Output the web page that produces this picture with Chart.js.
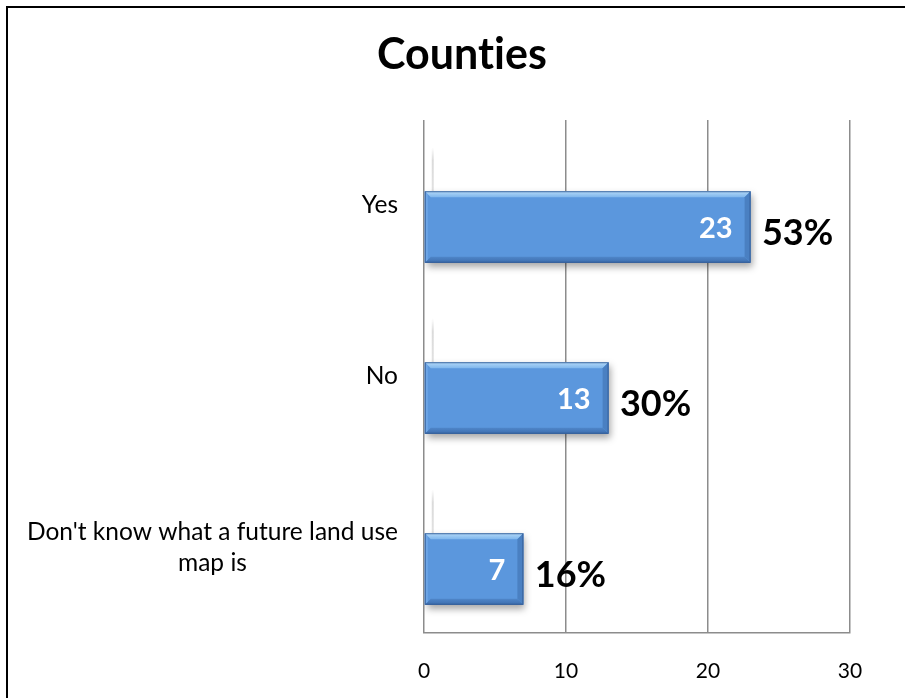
<!DOCTYPE html>
<html>
<head>
<meta charset="utf-8">
<title>Counties</title>
<script src="https://cdn.jsdelivr.net/npm/chart.js@4/dist/chart.umd.min.js"></script>
<style>
  html, body { margin: 0; padding: 0; background: #fff; }
  #wrap { position: relative; width: 905px; height: 698px; overflow: hidden; }
  #frame { position: absolute; left: 6px; top: 6px; width: 1000px; height: 800px;
           border-left: 2px solid #000; border-top: 2px solid #000; pointer-events: none; }
  canvas { position: absolute; left: 0; top: 0; }
</style>
</head>
<body>
<div id="wrap">
  <canvas id="chart" width="905" height="698"></canvas>
  <div id="frame"></div>
</div>
<script>
// Survey answers and counts
const categories = ['Yes', 'No', ["Don't know what a future land use", 'map is']];
const counts = [23, 13, 7];
const xTicks = [0, 10, 20, 30];

const total = counts.reduce((a, b) => a + b, 0);
const percents = counts.map(v => Math.round(v / total * 100) + '%');

const FONT = 'Lato, "Open Sans", sans-serif';
const DEPTH = 21.5;   // downward shift of the bar faces (3D look)
const BEVEL = 6;

// Plain glyphs, no "ti" style ligatures
const plainText = {
  id: 'plainText',
  beforeDraw(chart) {
    const ctx = chart.ctx;
    if ('letterSpacing' in ctx) ctx.letterSpacing = '0.01px';
    if ('textRendering' in ctx) ctx.textRendering = 'optimizeSpeed';
  }
};

// Draws the bars shifted down with a soft shadow, then adds bevels and labels
const bevelBars = {
  id: 'bevelBars',
  beforeDatasetsDraw(chart) {
    const ctx = chart.ctx;
    // faint back edge of each 3D bar
    const meta = chart.getDatasetMeta(0);
    meta.data.forEach(el => {
      const p = el.getProps(['y', 'base', 'height'], true);
      const T = p.y - p.height / 2 + DEPTH;
      const g = ctx.createLinearGradient(0, T - 44, 0, T);
      g.addColorStop(0, 'rgba(215,215,215,0)');
      g.addColorStop(0.3, 'rgba(215,215,215,0.9)');
      g.addColorStop(1, 'rgba(225,225,225,1)');
      ctx.save();
      ctx.fillStyle = g;
      ctx.fillRect(p.base + 7, T - 44, 2, 44);
      ctx.restore();
    });
    ctx.save();
    ctx.translate(0, DEPTH);
    ctx.shadowColor = 'rgba(0,0,0,0.35)';
    ctx.shadowBlur = 7;
    ctx.shadowOffsetX = 2;
    ctx.shadowOffsetY = 4;
  },
  afterDatasetsDraw(chart) {
    const ctx = chart.ctx;
    ctx.shadowColor = 'transparent';
    ctx.shadowBlur = 0;
    ctx.shadowOffsetX = 0;
    ctx.shadowOffsetY = 0;
    const meta = chart.getDatasetMeta(0);
    meta.data.forEach((el, i) => {
      const p = el.getProps(['x', 'y', 'base', 'height'], true);
      const L = p.base, R = p.x, T = p.y - p.height / 2, B = p.y + p.height / 2, d = BEVEL;
      const poly = (pts, fill) => {
        ctx.beginPath();
        ctx.moveTo(pts[0][0], pts[0][1]);
        for (let k = 1; k < pts.length; k++) ctx.lineTo(pts[k][0], pts[k][1]);
        ctx.closePath();
        ctx.fillStyle = fill;
        ctx.fill();
      };
      const gTop = ctx.createLinearGradient(0, T, 0, T + d);
      gTop.addColorStop(0, '#b3d9f8');
      gTop.addColorStop(1, '#7fb6ec');
      poly([[L, T], [R, T], [R - d, T + d], [L + d, T + d]], gTop);
      const gBot = ctx.createLinearGradient(0, B - d, 0, B);
      gBot.addColorStop(0, '#4f86c9');
      gBot.addColorStop(1, '#3d6dad');
      poly([[L, B], [R, B], [R - d, B - d], [L + d, B - d]], gBot);
      poly([[R, T], [R, B], [R - d, B - d], [R - d, T + d]], '#4a80c2');
      poly([[L, T], [L, B], [L + 3, B - 3], [L + 3, T + 3]], '#6ea6e6');
      ctx.lineWidth = 1;
      ctx.strokeStyle = 'rgba(47,87,145,0.85)';
      ctx.strokeRect(L + 0.5, T + 0.5, R - L - 1, B - T - 1);

      // count inside the bar
      ctx.fillStyle = '#ffffff';
      ctx.font = 'bold 29px ' + FONT;
      ctx.textAlign = 'right';
      ctx.textBaseline = 'middle';
      ctx.fillText(String(counts[i]), R - 18, p.y + 2);

      // share of all answers, beside the bar
      ctx.fillStyle = '#000000';
      ctx.font = 'bold 36px ' + FONT;
      ctx.textAlign = 'center';
      ctx.fillText(percents[i], R + 47, p.y + 6);
    });
    ctx.restore();
  },
  afterDraw(chart) {
    // category labels: block right-aligned to the axis, lines centred within the block
    const ctx = chart.ctx;
    const y = chart.scales.y;
    ctx.save();
    ctx.font = '24.5px ' + FONT;
    ctx.fillStyle = '#000';
    ctx.textBaseline = 'middle';
    ctx.textAlign = 'center';
    const lineH = 31;
    categories.forEach((lab, i) => {
      const lines = Array.isArray(lab) ? lab : [lab];
      const w = Math.max(...lines.map(s => ctx.measureText(s).width));
      const cx = 398 - w / 2;
      const cy = y.getPixelForValue(i);
      lines.forEach((s, k) => {
        ctx.fillText(s, cx, cy + (k - (lines.length - 1) / 2) * lineH);
      });
    });
    ctx.restore();
  }
};

new Chart(document.getElementById('chart'), {
  type: 'bar',
  data: {
    labels: categories,
    datasets: [{
      data: counts,
      backgroundColor: '#5b97dd',
      borderWidth: 0,
      barPercentage: 0.418,
      categoryPercentage: 1
    }]
  },
  plugins: [plainText, bevelBars],
  options: {
    indexAxis: 'y',
    responsive: false,
    animation: false,
    events: [],
    layout: { padding: { left: 74, right: 55, top: 0, bottom: 0 } },
    plugins: {
      legend: { display: false },
      tooltip: { enabled: false },
      title: {
        display: true,
        text: 'Counties',
        color: '#000',
        font: { family: FONT, size: 43, weight: 'bold', lineHeight: 1.2 },
        padding: { top: 29, bottom: 39.4 }
      }
    },
    scales: {
      x: {
        type: 'linear',
        position: 'bottom',
        min: xTicks[0],
        max: xTicks[xTicks.length - 1],
        afterBuildTicks(scale) { scale.ticks = xTicks.map(v => ({ value: v })); },
        afterFit(scale) { scale.height = 65; },
        grid: { color: '#8c8c8c', lineWidth: 1.5, drawTicks: false },
        border: { color: '#8c8c8c', width: 1.5 },
        ticks: { color: '#000', font: { family: FONT, size: 21 }, padding: 26 }
      },
      y: {
        type: 'category',
        afterFit(scale) { scale.width = 350; },
        grid: { display: false },
        border: { display: false },
        ticks: { display: false }
      }
    }
  }
});
</script>
</body>
</html>
